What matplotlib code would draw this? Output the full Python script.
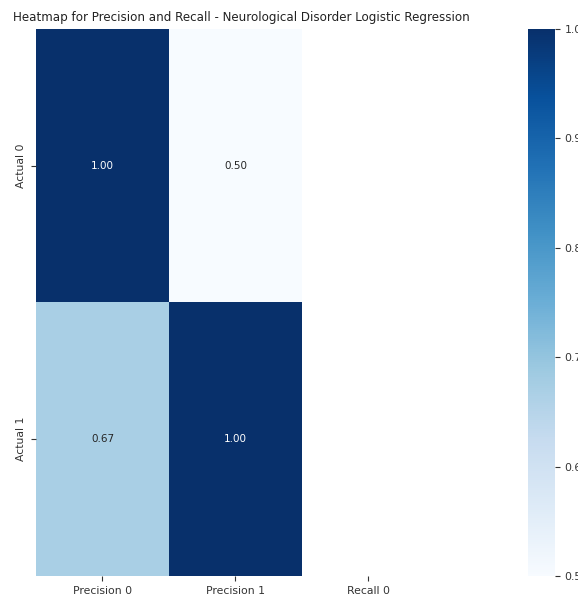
import numpy as np
import matplotlib
matplotlib.use("Agg")
import matplotlib.pyplot as plt
import seaborn as sns

row_labels = ["Actual 0", "Actual 1"]
col_labels = ["Precision 0", "Precision 1", "Recall 0"]
precision_0 = [1.00, 0.67]
precision_1 = [0.50, 1.00]
recall_0 = [np.nan, np.nan]

scores = np.column_stack([precision_0, precision_1, recall_0])

fig = plt.figure(figsize=(5.78, 5.96), dpi=100)
ax = fig.add_axes([0.0623, 0.0336, 0.690, 0.918])
cax = fig.add_axes([0.9135, 0.0336, 0.0467, 0.918])

sns.heatmap(scores, annot=True, fmt=".2f", cmap="Blues", ax=ax, cbar_ax=cax,
            xticklabels=col_labels, yticklabels=row_labels,
            annot_kws={"fontsize": 7.5})

ax.set_title("Heatmap for Precision and Recall - Neurological Disorder Logistic Regression",
             fontsize=8.6, color="#222222", x=0.514)
ax.tick_params(labelsize=7.8, colors="#333333")
ax.set_yticklabels(row_labels, rotation=90, va="center")
cax.tick_params(labelsize=7.8, colors="#333333")

fig.savefig("out.png", dpi=100)
